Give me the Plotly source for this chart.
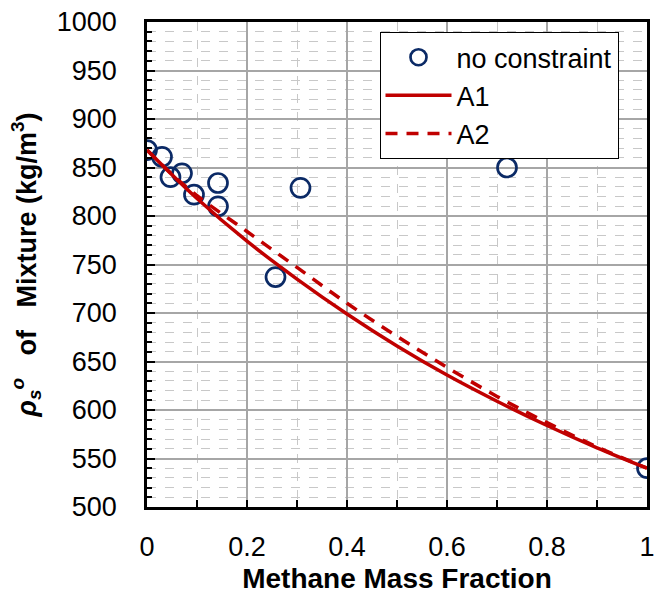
import plotly.graph_objects as go

# Data
obs_x = [0.0, 0.03, 0.047, 0.07, 0.094, 0.142, 0.142, 0.257, 0.307, 0.72, 1.0]
obs_y = [868, 861, 840, 844, 822, 834, 810, 737, 829, 850, 540]

a1_x = [0.0, 0.1, 0.2, 0.3, 0.4, 0.5, 0.6, 0.7, 0.8, 0.9, 1.0]
a1_y = [868, 818, 774, 735, 699, 666, 636, 609, 584, 561, 540]

a2_x = [0.0, 0.05, 0.1, 0.2, 0.3, 0.4, 0.5, 0.6, 0.7, 0.8, 0.9, 1.0]
a2_y = [868, 843, 821, 784, 747, 710, 676, 644, 614, 587, 562, 540]

x_ticks = [0, 0.2, 0.4, 0.6, 0.8, 1]
x_labels = ["0", "0.2", "0.4", "0.6", "0.8", "1"]

RED = "#C00000"
NAVY = "#0B2A66"
FONT = "Liberation Sans, Arial, sans-serif"

fig = go.Figure()
fig.add_trace(go.Scatter(
    x=obs_x, y=obs_y, mode="markers", name="no constraint",
    marker=dict(symbol="circle-open", size=19, color=NAVY, line=dict(width=2.7, color=NAVY)),
))
fig.add_trace(go.Scatter(
    x=a1_x, y=a1_y, mode="lines", name="A1",
    line=dict(color=RED, width=3.5, shape="spline"),
))
fig.add_trace(go.Scatter(
    x=a2_x, y=a2_y, mode="lines", name="A2",
    line=dict(color=RED, width=3.5, dash="12px,9px", shape="spline"),
))

fig.update_layout(
    width=661, height=596,
    margin=dict(l=147, r=6, t=22, b=87),
    paper_bgcolor="white", plot_bgcolor="white",
    font=dict(family=FONT, size=27, color="black"),
    showlegend=True,
    legend=dict(
        x=0.465, y=0.979, xanchor="left", yanchor="top",
        bgcolor="white", bordercolor="black", borderwidth=1,
        font=dict(size=27, family=FONT), itemwidth=66,
        tracegroupgap=0,
    ),
    xaxis=dict(
        range=[0, 1], tickvals=x_ticks, ticktext=x_labels,
        showline=True, linecolor="black", linewidth=2.5, mirror=True,
        ticks="inside", ticklen=7, tickwidth=2, tickcolor="black",
        showgrid=True, gridcolor="#A6A6A6", gridwidth=1.5,
        zeroline=False,
        minor=dict(dtick=0.1, ticks="inside", ticklen=7, tickwidth=2, tickcolor="black",
                   showgrid=True, gridcolor="#C8C8C8", gridwidth=1, griddash="dash"),
        ticklabelstandoff=14,
        tickfont=dict(size=27, family=FONT),
        title=dict(text="<b>Methane Mass Fraction</b>", font=dict(size=28, family=FONT), standoff=8),
    ),
    yaxis=dict(
        range=[500, 1000], dtick=50, tick0=500,
        showline=True, linecolor="black", linewidth=2.5, mirror=True,
        ticks="inside", ticklen=8, tickwidth=2, tickcolor="black",
        showgrid=True, gridcolor="#A6A6A6", gridwidth=1.5,
        zeroline=False,
        minor=dict(dtick=10, ticks="inside", ticklen=5, tickwidth=2, tickcolor="black",
                   showgrid=True, gridcolor="#C8C8C8", gridwidth=1, griddash="dash"),
        ticklabelstandoff=22,
        tickfont=dict(size=27, family=FONT),
        title=dict(text="<b><i>ρ<sub>s</sub><sup>o</sup></i>&nbsp;&nbsp;&nbsp;of&nbsp;&nbsp;&nbsp;Mixture (kg/m<sup>3</sup>)</b>",
                   font=dict(size=27, family=FONT), standoff=13),
    ),
)

fig.write_html("out.html")
